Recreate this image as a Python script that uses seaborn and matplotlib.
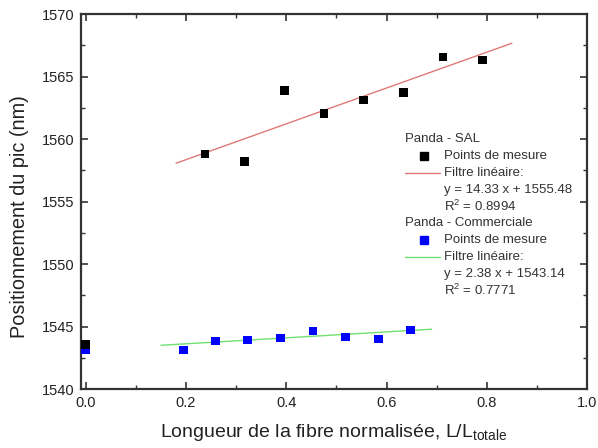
import numpy as np
import pandas as pd
import matplotlib
matplotlib.use("Agg")
import matplotlib.pyplot as plt
import seaborn as sns
from matplotlib.lines import Line2D
from matplotlib.ticker import MultipleLocator

# ---- data ----
sal_x = [0.0, 0.238, 0.317, 0.396, 0.475, 0.554, 0.634, 0.713, 0.792]
sal_y = [1543.56, 1558.8, 1558.2, 1563.86, 1562.02, 1563.12, 1563.74, 1566.56, 1566.32]
com_x = [0.0, 0.195, 0.259, 0.323, 0.389, 0.453, 0.518, 0.584, 0.648]
com_y = [1543.13, 1543.13, 1543.85, 1543.93, 1544.09, 1544.65, 1544.17, 1544.01, 1544.73]
sal_fit = {"slope": 14.33, "intercept": 1555.48, "x0": 0.18, "x1": 0.85}
com_fit = {"slope": 2.38, "intercept": 1543.14, "x0": 0.15, "x1": 0.69}
legend_lines = [
    ("Panda - SAL", None),
    ("Points de mesure", "sal_pt"),
    ("Filtre linéaire:", "sal_ln"),
    ("y = 14.33 x + 1555.48", None),
    ("R$^{2}$ = 0.8994", None),
    ("Panda - Commerciale", None),
    ("Points de mesure", "com_pt"),
    ("Filtre linéaire:", "com_ln"),
    ("y = 2.38 x + 1543.14", None),
    ("R$^{2}$ = 0.7771", None),
]
xlabel = "Longueur de la fibre normalisée, L/L$_{\\mathregular{totale}}$"
ylabel = "Positionnement du pic (nm)"

sns.set_style("ticks")
plt.rcParams['font.family'] = ['Liberation Sans', 'DejaVu Sans']
plt.rcParams['mathtext.fontset'] = 'custom'
plt.rcParams['mathtext.rm'] = 'Liberation Sans'
plt.rcParams['mathtext.it'] = 'Liberation Sans'

RED = "#e07878"
GREEN = "#70e070"
BLUE = "#0000ff"
SPINE = "#333333"

fig = plt.figure(figsize=(5.98, 4.48), dpi=100)
ax = fig.add_axes([81/598, 1-389/448, (587-81)/598, (389-14)/448])

df_sal = pd.DataFrame({"x": sal_x, "y": sal_y})
df_com = pd.DataFrame({"x": com_x, "y": com_y})

def fit_df(f):
    xs = np.array([f["x0"], f["x1"]])
    return pd.DataFrame({"x": xs, "y": f["slope"] * xs + f["intercept"]})

sns.lineplot(data=fit_df(sal_fit), x="x", y="y", ax=ax, color=RED, lw=1.0, zorder=2)
sns.lineplot(data=fit_df(com_fit), x="x", y="y", ax=ax, color=GREEN, lw=1.0, zorder=2)
sns.scatterplot(data=df_com, x="x", y="y", ax=ax, marker="s", s=38, color=BLUE,
                edgecolor="none", zorder=3)
sns.scatterplot(data=df_sal, x="x", y="y", ax=ax, marker="s", s=38, color="black",
                edgecolor="none", zorder=4)

ax.set_xlim(-0.0095, 1.0)
ax.set_ylim(1540, 1570)
ax.xaxis.set_major_locator(MultipleLocator(0.2))
ax.xaxis.set_minor_locator(MultipleLocator(0.1))
ax.yaxis.set_major_locator(MultipleLocator(5))
ax.yaxis.set_minor_locator(MultipleLocator(2.5))
ax.set_xticks([0.0, 0.2, 0.4, 0.6, 0.8, 1.0])
ax.set_xticklabels(["0.0", "0.2", "0.4", "0.6", "0.8", "1.0"])
ax.tick_params(which="both", direction="in", top=True, right=True, color=SPINE,
               labelsize=10.5, labelcolor="#222222", pad=5)
ax.tick_params(which="major", length=5, width=1.2)
ax.tick_params(which="minor", length=3, width=1.0)
for sp in ax.spines.values():
    sp.set_visible(True)
    sp.set_linewidth(1.6)
    sp.set_color(SPINE)

ax.set_xlabel(xlabel, fontsize=14, color="#222222")
ax.xaxis.set_label_coords(0.5, -(432 - 389) / 375, transform=ax.transAxes)
ax.xaxis.label.set_va("center")
ax.set_ylabel(ylabel, fontsize=14.3, color="#222222")
ax.yaxis.set_label_coords(-(81 - 20) / 506, (389 - 217) / 375)
ax.yaxis.label.set_va("center")

# legend block (text in axes coordinates)
y0 = (389 - 139) / 375
dy = 16.85 / 375
xt_title = (405 - 81) / 506
xt_item = (444 - 81) / 506
for i, (txt, kind) in enumerate(legend_lines):
    yy = y0 - i * dy
    xpos = xt_title if kind is None and txt.startswith("Panda") else xt_item
    ax.text(xpos, yy, txt, transform=ax.transAxes, fontsize=9.5, color="#333333",
            va="center", ha="left")
    if kind in ("sal_pt", "com_pt"):
        c = "black" if kind == "sal_pt" else BLUE
        ax.add_line(Line2D([(424 - 81) / 506], [yy], transform=ax.transAxes,
                           marker="s", markersize=6, color=c, ls="none"))
    elif kind in ("sal_ln", "com_ln"):
        c = RED if kind == "sal_ln" else GREEN
        ax.add_line(Line2D([(405 - 81) / 506, (440 - 81) / 506], [yy, yy],
                           transform=ax.transAxes, color=c, lw=1.0))

if ax.get_legend() is not None:
    ax.get_legend().remove()

fig.savefig("out.png", dpi=100, facecolor="white")
